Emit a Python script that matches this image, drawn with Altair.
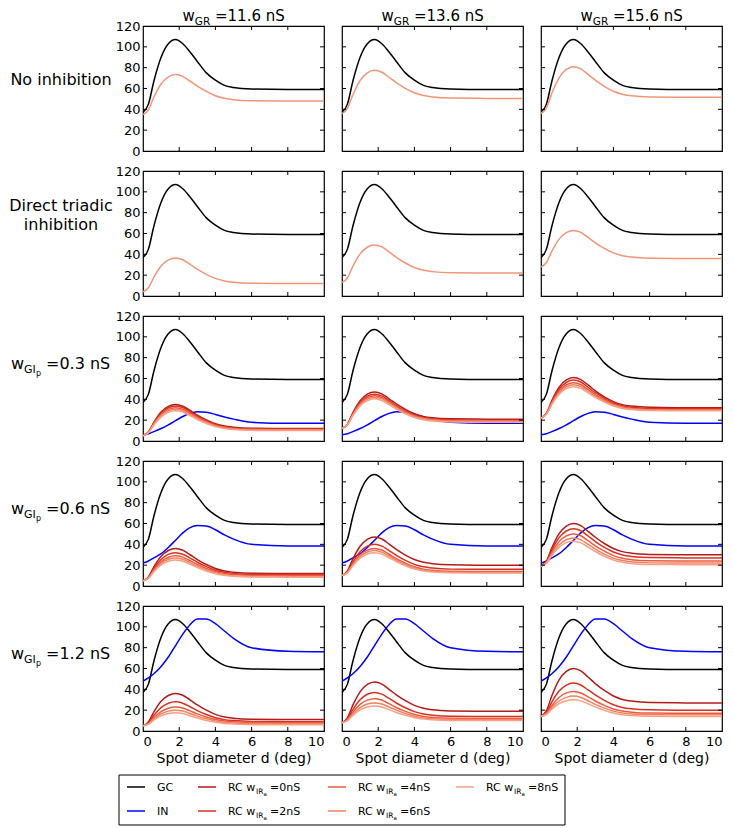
import altair as alt
import pandas as pd

# ---------------- data ----------------
X = [0, 0.3, 0.6, 1.0, 1.4, 1.8, 2.2, 2.6, 3.0, 3.5, 4.0, 4.5, 5.0, 6.0, 8.0, 10.0]

GC = [37, 45, 67, 90, 103, 107, 103, 95, 86, 75, 68, 63, 61, 59.5, 59, 59]

IN_03 = [6, 7, 9, 12, 15.5, 19.5, 23.5, 26.5, 28, 27.5, 25.5, 23, 21, 18, 17, 17]
IN_06 = [22, 24, 27, 31, 37, 44, 51, 56, 58, 57.5, 54, 49, 45, 40, 38.5, 38.5]
IN_12 = [48, 51, 55, 62, 71, 82, 93, 102, 107.5, 107.5, 103, 96, 89, 80, 76.5, 76]

# row "No inhibition", columns wGR = 11.6, 13.6, 15.6
RC_NOINH = [
    [35, 39.6, 51.6, 64.3, 71.2, 73.5, 71.7, 67.1, 62.3, 57.2, 53.1, 50.6, 49.3, 48.3, 48, 48],
    [36, 41, 53.8, 67.5, 75, 77.5, 75.6, 70.8, 65.6, 60.2, 55.9, 53.2, 51.9, 50.8, 50.5, 50.5],
    [36, 41.4, 55.4, 70.2, 78.3, 81, 78.9, 73.6, 68, 62.1, 57.4, 54.5, 53, 51.8, 51.5, 51.5],
]
# row "Direct triadic inhibition"
RC_DIRECT = [
    [4, 7.9, 18, 28.7, 34.6, 36.5, 34.8, 30.4, 25.7, 20.8, 16.9, 14.5, 13.2, 12.2, 12, 12],
    [13, 17.3, 28.5, 40.4, 46.8, 49, 47.1, 42.3, 37.1, 31.7, 27.4, 24.7, 23.4, 22.3, 22, 22],
    [28, 32.2, 43, 54.6, 60.9, 63, 61.1, 56.3, 51.1, 45.7, 41.4, 38.7, 37.4, 36.3, 36, 36],
]

# wGIp = 0.3 nS ; each column: wIRa = 0, 2, 4, 6, 8 nS
RC_03 = [
    [[5, 8.6, 17.9, 27.8, 33.2, 35, 33.4, 29.3, 24.9, 20.3, 16.6, 14.3, 13.2, 12.2, 12, 12],
     [5, 8.4, 17.3, 26.7, 31.8, 33.5, 32, 28, 23.8, 19.4, 15.9, 13.7, 12.6, 11.7, 11.5, 11.5],
     [5, 8.2, 16.6, 25.5, 30.4, 32, 30.5, 26.8, 22.8, 18.6, 15.2, 13.1, 12.1, 11.2, 11, 11],
     [5, 8.1, 16, 24.4, 29, 30.5, 29.1, 25.5, 21.7, 17.7, 14.5, 12.5, 11.5, 10.7, 10.5, 10.5],
     [5, 7.9, 15.3, 23.2, 27.6, 29, 27.7, 24.3, 20.6, 16.8, 13.8, 11.9, 11, 10.2, 10, 10]],
    [[12, 16.2, 27.1, 38.6, 44.9, 47, 45.2, 40.5, 35.6, 30.4, 26.2, 23.6, 22.3, 21.3, 21, 21],
     [12, 16, 26.2, 37.1, 43, 45, 43.3, 38.8, 34, 29, 25, 22.5, 21.3, 20.3, 20, 20],
     [12, 15.8, 25.5, 35.9, 41.6, 43.5, 41.8, 37.5, 32.9, 28.1, 24.3, 21.9, 20.7, 19.7, 19.5, 19.5],
     [12, 15.6, 24.9, 34.8, 40.2, 42, 40.4, 36.3, 31.9, 27.3, 23.6, 21.3, 20.2, 19.2, 19, 19],
     [12, 15.4, 24.3, 33.7, 38.8, 40.5, 38.9, 34.9, 30.6, 26.1, 22.5, 20.3, 19.1, 18.2, 18, 18]],
    [[22, 26.7, 38.8, 51.6, 58.7, 61, 59, 53.8, 48.2, 42.4, 37.8, 34.9, 33.5, 32.3, 32, 32],
     [22, 26.4, 37.7, 49.7, 56.3, 58.5, 56.6, 51.6, 46.4, 40.9, 36.5, 33.8, 32.4, 31.3, 31, 31],
     [22, 26.1, 36.6, 47.8, 54, 56, 54.2, 49.5, 44.6, 39.4, 35.2, 32.6, 31.3, 30.3, 30, 30],
     [22, 25.8, 35.8, 46.3, 52.1, 54, 52.3, 47.9, 43.2, 38.3, 34.4, 32, 30.7, 29.7, 29.5, 29.5],
     [22, 25.6, 34.9, 44.8, 50.2, 52, 50.4, 46.3, 41.9, 37.3, 33.6, 31.3, 30.2, 29.2, 29, 29]],
]
RC_06 = [
    [[5, 8.7, 18.3, 28.6, 34.1, 36, 34.3, 30, 25.4, 20.6, 16.8, 14.4, 13.2, 12.2, 12, 12],
     [5, 8.2, 16.6, 25.5, 30.4, 32, 30.5, 26.8, 22.8, 18.6, 15.2, 13.1, 12.1, 11.2, 11, 11],
     [5, 7.9, 15.3, 23.2, 27.6, 29, 27.7, 24.3, 20.6, 16.8, 13.8, 11.9, 11, 10.2, 10, 10],
     [5, 7.6, 14.5, 21.7, 25.7, 27, 25.7, 22.5, 19.1, 15.5, 12.6, 10.8, 9.9, 9.2, 9, 9],
     [5, 7.4, 13.6, 20.2, 23.8, 25, 23.8, 20.9, 17.7, 14.4, 11.8, 10.2, 9.3, 8.7, 8.5, 8.5]],
    [[10, 14.4, 25.9, 38.1, 44.8, 47, 45.1, 40.3, 35.1, 29.7, 25.4, 22.7, 21.4, 20.3, 20, 20],
     [10, 13.6, 22.9, 32.8, 38.2, 40, 38.3, 34, 29.4, 24.6, 20.8, 18.4, 17.2, 16.2, 16, 16],
     [10, 13.1, 21.2, 29.8, 34.4, 36, 34.5, 30.5, 26.3, 21.9, 18.4, 16.2, 15.1, 14.2, 14, 14],
     [10, 12.9, 20.3, 28.2, 32.6, 34, 32.5, 28.8, 24.8, 20.6, 17.2, 15.1, 14.1, 13.2, 13, 13],
     [10, 12.6, 19.5, 26.7, 30.7, 32, 30.6, 27.1, 23.4, 19.5, 16.4, 14.5, 13.5, 12.7, 12.5, 12.5]],
    [[19, 23.9, 36.6, 50.2, 57.5, 60, 57.9, 52.5, 46.8, 40.8, 36, 33, 31.5, 30.3, 30, 30],
     [19, 23.3, 34.5, 46.4, 52.8, 55, 53, 48, 42.7, 37.1, 32.6, 29.8, 28.4, 27.3, 27, 27],
     [19, 22.7, 32.3, 42.6, 48.1, 50, 48.2, 43.5, 38.6, 33.4, 29.2, 26.6, 25.3, 24.3, 24, 24],
     [19, 22.2, 30.6, 39.5, 44.4, 46, 44.3, 40, 35.4, 30.6, 26.8, 24.4, 23.2, 22.2, 22, 22],
     [19, 21.9, 29.3, 37.2, 41.6, 43, 41.4, 37.4, 33.1, 28.6, 25, 22.8, 21.6, 20.7, 20.5, 20.5]],
]
RC_12 = [
    [[5, 8.7, 18.3, 28.6, 34.1, 36, 34.3, 29.8, 25, 20, 16, 13.5, 12.3, 11.3, 11, 11],
     [5, 7.8, 14.9, 22.5, 26.6, 28, 26.7, 23.3, 19.6, 15.8, 12.8, 10.9, 10, 9.2, 9, 9],
     [5, 7.2, 12.7, 18.7, 21.9, 23, 22, 19.3, 16.4, 13.4, 11, 9.5, 8.8, 8.2, 8, 8],
     [5, 6.8, 11.5, 16.4, 19.1, 20, 19.1, 16.8, 14.3, 11.7, 9.6, 8.3, 7.7, 7.1, 7, 7],
     [5, 6.5, 10.4, 14.5, 16.8, 17.5, 16.7, 14.6, 12.4, 10.1, 8.3, 7.2, 6.6, 6.1, 6, 6]],
    [[8, 12.7, 24.8, 37.6, 44.7, 47, 45, 40, 34.7, 29.1, 24.6, 21.8, 20.4, 19.3, 19, 19],
     [8, 11.5, 20.5, 30, 35.3, 37, 35.4, 31.3, 26.9, 22.3, 18.6, 16.3, 15.2, 14.2, 14, 14],
     [8, 10.8, 17.9, 25.5, 29.6, 31, 29.7, 26.3, 22.6, 18.8, 15.8, 13.9, 13, 12.2, 12, 12],
     [8, 10.3, 16.2, 22.4, 25.9, 27, 25.9, 23, 20, 16.8, 14.2, 12.6, 11.8, 11.2, 11, 11],
     [8, 9.9, 14.9, 20.2, 23, 24, 23, 20.5, 17.8, 15, 12.8, 11.4, 10.7, 10.1, 10, 10]],
    [[14, 19.5, 33.8, 49, 57.2, 60, 57.7, 51.8, 45.5, 38.9, 33.6, 30.3, 28.7, 27.3, 27, 27],
     [14, 17.8, 27.8, 38.3, 44.1, 46, 44.2, 39.5, 34.6, 29.4, 25.2, 22.6, 21.3, 20.3, 20, 20],
     [14, 16.9, 24.3, 32.2, 36.6, 38, 36.5, 32.8, 28.8, 24.6, 21.2, 19.1, 18.1, 17.2, 17, 17],
     [14, 16.3, 22.4, 28.8, 32.3, 33.5, 32.2, 29, 25.6, 22, 19.1, 17.3, 16.4, 15.7, 15.5, 15.5],
     [14, 15.9, 20.9, 26.2, 29, 30, 28.9, 26, 23, 19.8, 17.2, 15.6, 14.8, 14.2, 14, 14]],
]

W_GR = ["11.6", "13.6", "15.6"]
W_GIP = ["0.3", "0.6", "1.2"]
W_IRA = ["0", "2", "4", "6", "8"]
Y_LABELS = [0, 20, 40, 60, 80, 100, 120]
X_LABELS = [0, 2, 4, 6, 8, 10]
Y_TICKS = [20, 40, 60, 80, 100]
X_TICKS = [2, 4, 6, 8]

SERIES = ["GC", "IN", "RC0", "RC2", "RC4", "RC6", "RC8", "RC"]
COLORS = ["#000000", "#0000ff", "#b31b1b", "#d7301f", "#ea5a40", "#f4815f", "#f7a184", "#f29478"]

# ---------------- layout ----------------
W, H = 181, 125
FONT = "DejaVu Sans"


def long_df(series_list):
    recs = []
    for name, vals in series_list:
        for xv, yv in zip(X, vals):
            recs.append({"x": xv, "y": yv, "s": name})
    return pd.DataFrame(recs)


def tlayer(txt, x, y, size, align="left"):
    return alt.Chart(pd.DataFrame({"t": [txt]})).mark_text(
        align=align, baseline="alphabetic", fontSize=size, color="black", font=FONT
    ).encode(x=alt.value(x), y=alt.value(y), text="t:N")


def panel(r, c):
    if r == 0:
        series = [("GC", GC), ("RC", RC_NOINH[c])]
    elif r == 1:
        series = [("GC", GC), ("RC", RC_DIRECT[c])]
    else:
        ins = [IN_03, IN_06, IN_12][r - 2]
        rcs = [RC_03, RC_06, RC_12][r - 2][c]
        series = [("GC", GC), ("IN", ins)] + [("RC" + w, v) for w, v in zip(W_IRA, rcs)]
    df = long_df(series)

    xs = alt.Scale(domain=[0, 10], nice=False, zero=False)
    ys = alt.Scale(domain=[0, 120], nice=False)
    yax = alt.Axis(values=Y_LABELS, ticks=False, tickSize=0, domain=False, grid=False,
                  labelPadding=3, labelFontSize=13, labelColor="black", labelFont=FONT,
                  title=None) if c == 0 else None
    xax = alt.Axis(values=X_LABELS, ticks=False, tickSize=0, domain=False, grid=False,
                  labelPadding=4, labelFontSize=13, labelColor="black", labelFont=FONT,
                  title="Spot diameter d (deg)", titleFontSize=14, titleFontWeight="normal",
                  titleColor="black", titleFont=FONT, titlePadding=3) if r == 4 else None

    lines = alt.Chart(df).mark_line(strokeWidth=1.5, interpolate="monotone", clip=True).encode(
        x=alt.X("x:Q", scale=xs, axis=xax),
        y=alt.Y("y:Q", scale=ys, axis=yax),
        color=alt.Color("s:N", scale=alt.Scale(domain=SERIES, range=COLORS), legend=None),
    )
    ydf = pd.DataFrame({"v": Y_TICKS})
    xdf = pd.DataFrame({"v": X_TICKS})
    yl = alt.Chart(ydf).mark_rule(color="black", strokeWidth=1).encode(
        y=alt.Y("v:Q", scale=ys, axis=yax), x=alt.value(0), x2=alt.value(4))
    yr = alt.Chart(ydf).mark_rule(color="black", strokeWidth=1).encode(
        y=alt.Y("v:Q", scale=ys, axis=yax), x=alt.value(W - 4), x2=alt.value(W))
    xb = alt.Chart(xdf).mark_rule(color="black", strokeWidth=1).encode(
        x=alt.X("v:Q", scale=xs, axis=xax), y=alt.value(H - 4), y2=alt.value(H))
    xt = alt.Chart(xdf).mark_rule(color="black", strokeWidth=1).encode(
        x=alt.X("v:Q", scale=xs, axis=xax), y=alt.value(0), y2=alt.value(4))

    layers = [lines, yl, yr, xb, xt]

    if r == 0:
        x0 = W / 2 - 51
        layers += [tlayer("w", x0, -5, 15), tlayer("GR", x0 + 12.3, -1.5, 10.5),
                   tlayer("=" + W_GR[c] + " nS", x0 + 32.5, -5, 15)]
    if c == 0:
        cx = -82
        if r == 0:
            layers += [tlayer("No inhibition", cx, H / 2 - 4, 16, "center")]
        elif r == 1:
            layers += [tlayer("Direct triadic", cx, H / 2 - 23, 16, "center"),
                       tlayer("inhibition", cx, H / 2 - 4, 16, "center")]
        else:
            x0 = cx - 50
            yb = H / 2 - 10
            layers += [tlayer("w", x0, yb, 16), tlayer("GI", x0 + 13.1, yb + 4, 11),
                       tlayer("p", x0 + 24.9, yb + 7, 8),
                       tlayer("=" + W_GIP[r - 2] + " nS", x0 + 35, yb, 16)]
    return alt.layer(*layers).properties(width=W, height=H)


# ---------------- legend ----------------
LEG_SERIES = ["GC", "IN", "RC0", "RC2", "RC4", "RC6", "RC8"]
LEG_LABEL = ["GC", "IN", "RC w", "RC w", "RC w", "RC w", "RC w"]
LEG_VALUE = ["", "", "=0nS", "=2nS", "=4nS", "=6nS", "=8nS"]
LEG_COL = [0, 0, 1, 1, 2, 2, 3]
LEG_ROW = [0, 1, 0, 1, 0, 1, 0]
COL_X = [-16, 55, 185, 313]
BOX_TOP = 24
ROW_Y = [BOX_TOP + 12, BOX_TOP + 36]

leg = pd.DataFrame({
    "s": LEG_SERIES, "lab": LEG_LABEL, "val": LEG_VALUE,
    "lx": [COL_X[k] for k in LEG_COL],
    "ly": [ROW_Y[k] for k in LEG_ROW],
})
leg["lx2"] = leg["lx"] + 18
leg["tx"] = leg["lx"] + 30
leg_rc = leg[leg["val"] != ""]

box = alt.Chart(pd.DataFrame({"a": [0]})).mark_rect(fill="white", stroke="black", strokeWidth=1).encode(
    x=alt.value(-24), x2=alt.value(422), y=alt.value(BOX_TOP), y2=alt.value(BOX_TOP + 50))
leg_lines = alt.Chart(leg).mark_rule(strokeWidth=1.5).encode(
    x=alt.X("lx:Q", scale=None), x2="lx2:Q", y=alt.Y("ly:Q", scale=None),
    color=alt.Color("s:N", scale=alt.Scale(domain=SERIES, range=COLORS), legend=None))


def leg_text(df, field, dx, dy, size):
    return alt.Chart(df).mark_text(align="left", baseline="alphabetic", fontSize=size, dx=dx, dy=dy,
                                   color="black", font=FONT).encode(
        x=alt.X("tx:Q", scale=None), y=alt.Y("ly:Q", scale=None), text=field + ":N")


leg_rc2 = leg_rc.assign(sub="IR", sub2="a")
legend = alt.layer(
    box, leg_lines,
    leg_text(leg, "lab", 0, 4, 11),
    leg_text(leg_rc2, "sub", 28, 7, 7.5),
    leg_text(leg_rc2, "sub2", 35.5, 9, 5.5),
    leg_text(leg_rc, "val", 42, 4, 11),
).properties(width=W, height=50, view=alt.ViewBackground(strokeOpacity=0))

panels = [panel(r, c) for r in range(5) for c in range(3)]
chart = alt.concat(*panels, legend, columns=3, spacing={"row": 20, "column": 18}, bounds="flush").properties(
    padding=0, background="white"
).configure(font=FONT).configure_view(stroke="black", strokeWidth=1.2)

chart.save("out.html", embed_options={"renderer": "svg", "actions": False})
